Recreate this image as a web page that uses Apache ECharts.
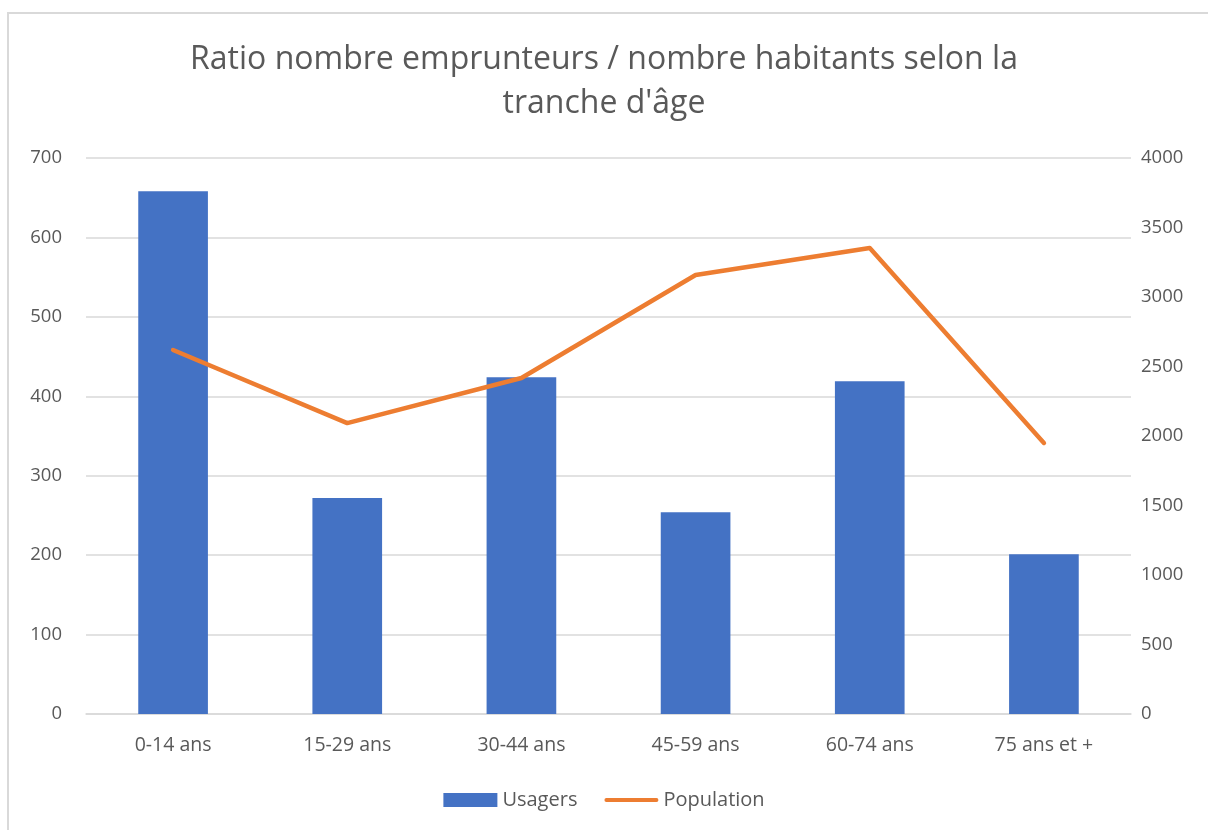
<!DOCTYPE html>
<html>
<head>
<meta charset="utf-8">
<script src="https://cdn.jsdelivr.net/npm/echarts@6/dist/echarts.min.js"></script>
<style>
body{margin:0;background:#fff;}
#cadre{position:absolute;left:7px;top:12px;width:1300px;height:900px;border:2px solid #d9d9d9;}
#chart{position:absolute;left:0;top:0;width:1208px;height:830px;}
</style>
</head>
<body>
<div id="cadre"></div>
<div id="chart"></div>
<script>
var tranches = ['0-14 ans', '15-29 ans', '30-44 ans', '45-59 ans', '60-74 ans', '75 ans et +'];
var usagers = [658, 272, 424, 254, 419, 201];
var population = [2619, 2093, 2417, 3158, 3352, 1950];

var police = '"Open Sans", "Noto Sans", sans-serif';
var gris = '#595959';

var myChart = echarts.init(document.getElementById('chart'));
var option = {
	animation: false,
	title: {
		text: 'Ratio nombre emprunteurs / nombre habitants selon la\ntranche d\'âge',
		left: 'center',
		top: 33,
		textStyle: {fontFamily: police, fontSize: 32, fontWeight: 'normal', color: gris, lineHeight: 44}
	},
	legend: {
		bottom: 15,
		left: 'center',
		itemGap: 27,
		itemWidth: 54,
		itemHeight: 14,
		textStyle: {fontFamily: police, fontSize: 20, color: gris},
		data: [
			{name: 'Usagers', icon: 'rect'},
			{name: 'Population', icon: 'path://M2,0 L52,0 A2,2 0 0 1 52,4 L2,4 A2,2 0 0 1 2,0 Z'}
		]
	},
	grid: {left: 86, right: 77, top: 158, bottom: 116},
	xAxis: {
		type: 'category',
		data: tranches,
		axisTick: {show: false},
		axisLine: {lineStyle: {color: '#d9d9d9', width: 1.5}},
		axisLabel: {fontFamily: police, fontSize: 19.5, color: gris, margin: 21}
	},
	yAxis: [{
		type: 'value',
		min: 0, max: 700, interval: 100,
		axisLabel: {fontFamily: police, fontSize: 18.5, color: gris, margin: 24},
		splitLine: {lineStyle: {color: '#d9d9d9', width: 1.5}}
	}, {
		type: 'value',
		min: 0, max: 4000, interval: 500,
		axisLabel: {fontFamily: police, fontSize: 18.5, color: gris, margin: 10, formatter: function (v) { return String(v); }},
		splitLine: {show: false}
	}],
	series: [{
		name: 'Usagers',
		type: 'bar',
		data: usagers,
		barWidth: '40%',
		itemStyle: {color: '#4472C4'}
	}, {
		name: 'Population',
		type: 'line',
		yAxisIndex: 1,
		data: population,
		symbol: 'none',
		lineStyle: {color: '#ED7D31', width: 4.5, cap: 'round', join: 'round'},
		itemStyle: {color: '#ED7D31'}
	}]
};
myChart.setOption(option);
</script>
</body>
</html>
